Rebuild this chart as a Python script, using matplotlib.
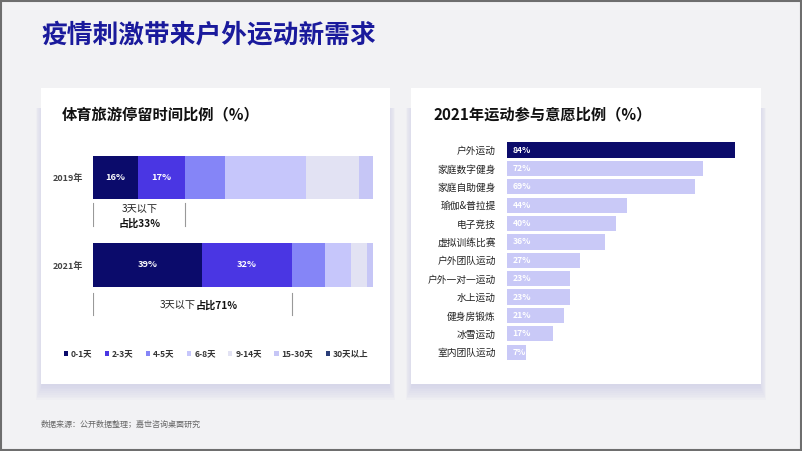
import matplotlib.pyplot as plt
import matplotlib.patches as mpatches
import numpy as np

plt.rcParams['font.family'] = ['Noto Sans CJK SC', 'DejaVu Sans']

# 左图：体育旅游停留时间比例
years = ['2019年', '2021年']
stay_cats = ['0-1天', '2-3天', '4-5天', '6-8天', '9-14天', '15-30天', '30天以上']
stay_2019 = [16, 17, 14, 29, 19, 5, 0]
stay_2021 = [39, 32, 12, 9, 6, 2, 0]
stay_colors = ['#0b0b6b', '#4a36e3', '#8585f7', '#c6c6fb', '#e2e2f3', '#c6c6f6', '#2a3d78']

# 右图：2021年运动参与意愿比例
sports = ['户外运动', '家庭数字健身', '家庭自助健身', '瑜伽&普拉提', '电子竞技', '虚拟训练比赛',
          '户外团队运动', '户外一对一运动', '水上运动', '健身房锻炼', '冰雪运动', '室内团队运动']
sport_vals = [84, 72, 69, 44, 40, 36, 27, 23, 23, 21, 17, 7]

W, H = 802, 451
fig = plt.figure(figsize=(W / 100, H / 100), dpi=100)
fig.patch.set_facecolor('#f2f2f4')


def px_axes(x0, y0, w, h):
    # pixel box (top-left origin) -> figure axes
    return fig.add_axes([x0 / W, 1 - (y0 + h) / H, w / W, h / H])


bg = px_axes(0, 0, W, H)
bg.set_xlim(0, W)
bg.set_ylim(H, 0)
bg.axis('off')

# panels with soft shadow underneath
for (px, py, pw, ph) in [(41, 88, 349, 296), (411, 88, 350, 296)]:
    for i in range(10):
        bg.add_patch(mpatches.Rectangle((px + 2 - i * 0.8, py + 20), pw - 4 + 1.6 * i, ph - 20 + 1.8 * i,
                                        color='#c0c0e2', alpha=0.07, lw=0, zorder=1))
    bg.add_patch(mpatches.Rectangle((px, py), pw, ph, color='white', lw=0, zorder=2))

bg.add_patch(mpatches.Rectangle((0.75, 0.75), W - 1.5, H - 1.5, fill=False,
                                edgecolor='#6e6e6e', lw=1.5, zorder=5))

bg.text(41, 35, '疫情刺激带来户外运动新需求', fontsize=18.5, fontweight='bold',
        color='#1a1a9c', va='center', ha='left', zorder=3)
bg.text(62, 114, '体育旅游停留时间比例（%）', fontsize=11, fontweight='bold',
        color='#111111', va='center', ha='left', zorder=3)
bg.text(433, 114, '2021年运动参与意愿比例（%）', fontsize=11, fontweight='bold',
        color='#111111', va='center', ha='left', zorder=3)
bg.text(41, 424, '数据来源：公开数据整理；嘉世咨询桌面研究', fontsize=5.8,
        color='#666666', va='center', ha='left', zorder=3)

# ---- left stacked bars
ax1 = px_axes(93, 150, 280, 170)
data = np.array([stay_2019, stay_2021])
ypos = np.arange(len(years))
left = np.zeros(len(years))
bars_for_legend = []
for j, cat in enumerate(stay_cats):
    b = ax1.barh(ypos, data[:, j], left=left, height=0.5, color=stay_colors[j], label=cat)
    bars_for_legend.append(b)
    if j < 2:
        for i in range(len(years)):
            ax1.text(left[i] + data[i, j] / 2, ypos[i], f'{data[i, j]}%', color='white',
                     fontsize=6.7, fontweight='bold', ha='center', va='center')
    left += data[:, j]
ax1.set_xlim(0, 100)
ax1.set_ylim(1.629, -0.314)
ax1.set_yticks(ypos)
ax1.set_yticklabels(years, fontsize=6.5, color='#444444', fontweight='bold')
ax1.tick_params(axis='y', length=0, pad=7)
ax1.set_xticks([])
for s in ax1.spines.values():
    s.set_visible(False)
ax1.patch.set_alpha(0)

# brackets for "3天以下"
under3 = data[:, 0] + data[:, 1]
ax1.plot([0, 0], [0.29, 0.555], color='#999999', lw=0.8)
ax1.plot([under3[0], under3[0]], [0.29, 0.555], color='#999999', lw=0.8)
ax1.text(under3[0] / 2, 0.36, '3天以下', fontsize=7.3, ha='center', va='center', color='#222222')
ax1.text(under3[0] / 2, 0.53, f'占比{under3[0]}%', fontsize=7.3, fontweight='bold',
         ha='center', va='center', color='#111111')
ax1.plot([0, 0], [1.32, 1.575], color='#999999', lw=0.8)
ax1.plot([under3[1], under3[1]], [1.32, 1.575], color='#999999', lw=0.8)
ax1.text(36.8, 1.46, '3天以下', fontsize=7.3, ha='right', va='center', color='#222222')
ax1.text(36.8, 1.46, f'占比{under3[1]}%', fontsize=7.3, fontweight='bold',
         ha='left', va='center', color='#111111')

leg = fig.legend(handles=bars_for_legend, labels=stay_cats, loc='center',
                 bbox_to_anchor=(216 / W, 1 - 354 / H), ncol=7, frameon=False,
                 fontsize=6.1, handlelength=0.5, handleheight=0.5, handletextpad=0.35,
                 columnspacing=1.45)
for t in leg.get_texts():
    t.set_color('#333333')
    t.set_fontweight('bold')

# ---- right horizontal bars
ax2 = px_axes(507, 140, 240, 222)
ry = np.arange(len(sports))
rcolors = ['#0b0b6b'] + ['#c9c9f7'] * (len(sports) - 1)
ax2.barh(ry, sport_vals, height=0.83, color=rcolors)
for i, v in enumerate(sport_vals):
    ax2.annotate(f'{v}%', (0, ry[i]), xytext=(4, 0), textcoords='offset points',
                 color='white', fontsize=6.2, fontweight='bold', ha='left', va='center')
ax2.set_xlim(0, 240 / 2.72)
ax2.set_ylim(11.53, -0.544)
ax2.set_yticks(ry)
ax2.set_yticklabels(sports, fontsize=7, color='#222222')
ax2.tick_params(axis='y', length=0, pad=8)
ax2.set_xticks([])
for s in ax2.spines.values():
    s.set_visible(False)
ax2.patch.set_alpha(0)

fig.savefig('out.png', dpi=100, facecolor=fig.get_facecolor())
